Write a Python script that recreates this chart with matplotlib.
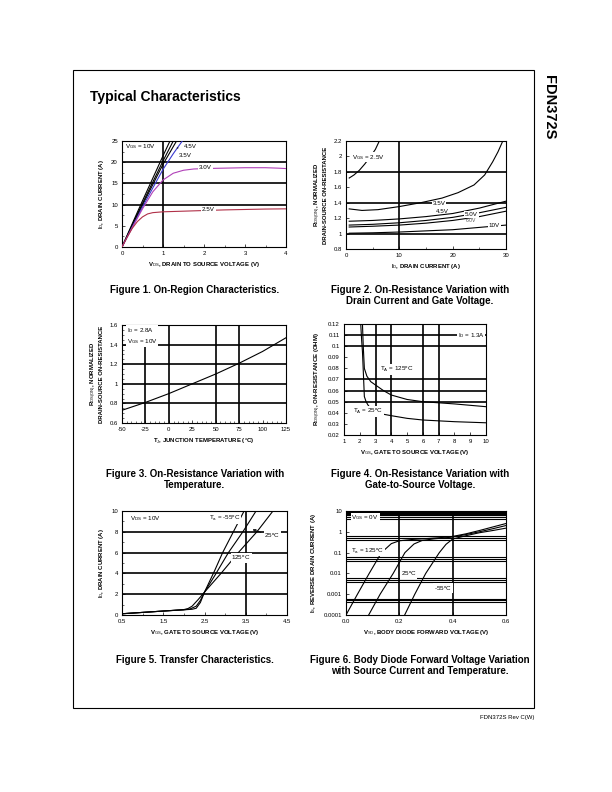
import numpy as np
import matplotlib
matplotlib.use("Agg")
import matplotlib.pyplot as plt
from matplotlib.patches import Rectangle

plt.rcParams['font.family'] = ['Liberation Sans', 'DejaVu Sans']
plt.rcParams['mathtext.fontset'] = 'custom'
plt.rcParams['mathtext.rm'] = 'Liberation Sans'
plt.rcParams['mathtext.it'] = 'Liberation Sans'
plt.rcParams['mathtext.bf'] = 'Liberation Sans:bold'
plt.rcParams['axes.unicode_minus'] = False

# ---------------- Data ----------------
# Figure 1: On-region characteristics (VDS vs ID)
f1_vds_10v = [0, 0.25, 0.5, 0.75, 1.0, 1.17]
f1_id_10v = [0, 5.5, 10.9, 16.2, 21.5, 25]
f1_vds_6v = [0, 0.25, 0.5, 0.75, 1.0, 1.25]
f1_id_6v = [0, 5.2, 10.3, 15.3, 20.3, 25]
f1_vds_45v = [0, 0.25, 0.5, 0.75, 1.0, 1.33]
f1_id_45v = [0, 5.0, 9.9, 14.7, 19.5, 25]
f1_vds_35v = [0, 0.25, 0.5, 0.75, 1.0, 1.25, 1.47]
f1_id_35v = [0, 4.7, 9.4, 13.9, 18.3, 22.0, 25]
f1_vds_30v = [0, 0.25, 0.5, 0.75, 1.0, 1.25, 1.5, 1.75, 2.0, 2.5, 3.0, 3.5, 3.8, 4.0]
f1_id_30v = [0, 4.6, 9.0, 13.0, 15.8, 17.4, 18.1, 18.4, 18.5, 18.6, 18.7, 18.7, 18.6, 18.5]
f1_vds_25v = [0, 0.125, 0.25, 0.375, 0.5, 0.625, 0.75, 1.0, 1.5, 2.0, 2.5, 3.0, 3.5, 4.0]
f1_id_25v = [0, 2.3, 4.4, 6.0, 7.1, 7.8, 8.1, 8.3, 8.45, 8.6, 8.75, 8.85, 8.95, 9.0]

# Figure 2: normalized RDS(on) vs ID
f2_id_25v = [0.6, 1.5, 2.5, 3.5, 4.5, 5.5, 6.25]
f2_r_25v = [1.72, 1.76, 1.82, 1.90, 1.99, 2.09, 2.2]
f2_id_35v = [0.6, 3, 6, 10, 14, 18, 21, 24, 26, 27.5, 28.5, 29.4]
f2_r_35v = [1.32, 1.30, 1.31, 1.35, 1.40, 1.46, 1.53, 1.63, 1.76, 1.93, 2.06, 2.2]
f2_id_45v = [0.6, 5, 10, 15, 20, 25, 30]
f2_r_45v = [1.16, 1.17, 1.19, 1.22, 1.26, 1.33, 1.42]
f2_id_50v = [0.6, 5, 10, 15, 20, 25, 30]
f2_r_50v = [1.11, 1.12, 1.14, 1.17, 1.21, 1.27, 1.34]
f2_id_60v = [0.6, 5, 10, 15, 20, 25, 30]
f2_r_60v = [1.085, 1.095, 1.11, 1.135, 1.17, 1.22, 1.29]
f2_id_10v = [0.6, 5, 10, 15, 20, 25, 30]
f2_r_10v = [1.005, 1.01, 1.02, 1.035, 1.05, 1.08, 1.11]

# Figure 3: normalized RDS(on) vs TJ
f3_tj = [-50, -25, 0, 25, 50, 75, 100, 125]
f3_r = [0.73, 0.81, 0.90, 1.00, 1.10, 1.21, 1.33, 1.47]

# Figure 4: RDS(on) vs VGS
f4_vgs_125 = [2.17, 2.22, 2.29, 2.45, 2.7, 3.0, 3.5, 4.0, 5.0, 6.0, 8.0, 10.0]
f4_r_125 = [0.12, 0.10, 0.080, 0.073, 0.068, 0.065, 0.060, 0.056, 0.052, 0.050, 0.048, 0.0455]
f4_vgs_25 = [2.06, 2.12, 2.17, 2.23, 2.29, 2.4, 2.52, 2.75, 3.0, 4.0, 5.0, 6.0, 8.0, 10.0]
f4_r_25 = [0.12, 0.105, 0.095, 0.075, 0.0546, 0.050, 0.047, 0.043, 0.040, 0.0374, 0.035, 0.0335, 0.032, 0.031]

# Figure 5: transfer characteristics
f5_vgs_m55 = [0.5, 1.0, 1.5, 2.0, 2.2, 2.3, 2.4, 2.5, 2.75, 2.94, 3.2, 3.46]
f5_id_m55 = [0.12, 0.25, 0.38, 0.5, 0.55, 0.65, 1.2, 2.2, 4.3, 6.0, 8.0, 10.0]
f5_vgs_25 = [0.5, 1.0, 1.5, 2.0, 2.15, 2.3, 2.4, 2.5, 2.75, 3.08, 3.43, 3.75]
f5_id_25 = [0.12, 0.25, 0.38, 0.5, 0.58, 0.85, 1.4, 2.2, 3.8, 6.0, 8.0, 10.0]
f5_vgs_125 = [0.5, 1.0, 1.5, 2.0, 2.1, 2.2, 2.35, 2.5, 2.9, 3.32, 3.77, 4.16]
f5_id_125 = [0.12, 0.25, 0.38, 0.52, 0.62, 0.85, 1.5, 2.2, 4.0, 6.0, 8.0, 10.0]

# Figure 6: body diode forward voltage
f6_vsd_125 = [0.0, 0.043, 0.087, 0.133, 0.17, 0.2, 0.25, 0.3, 0.35, 0.4, 0.45, 0.5, 0.55, 0.6]
f6_is_125 = [1e-4, 1e-3, 1e-2, 0.1, 0.27, 0.37, 0.43, 0.47, 0.52, 0.6, 0.8, 1.15, 1.7, 2.5]
f6_vsd_25 = [0.085, 0.128, 0.177, 0.221, 0.255, 0.285, 0.33, 0.37, 0.4, 0.45, 0.5, 0.55, 0.6]
f6_is_25 = [1e-4, 1e-3, 1e-2, 0.1, 0.26, 0.38, 0.46, 0.51, 0.56, 0.74, 1.0, 1.4, 2.0]
f6_vsd_m55 = [0.22, 0.258, 0.299, 0.35, 0.375, 0.4, 0.45, 0.5, 0.55, 0.6]
f6_is_m55 = [1e-4, 1e-3, 1e-2, 0.1, 0.25, 0.45, 0.65, 0.9, 1.15, 1.5]

# ---------------- Figure ----------------
W, H = 612, 792
fig = plt.figure(figsize=(W / 100, H / 100), dpi=100)

def ax_at(x0, x1, ytop, ybot):
    return fig.add_axes([x0 / W, 1 - ybot / H, (x1 - x0) / W, (ybot - ytop) / H])

TICK_FS = 4.3
LAB_FS = 4.3
GRID_LW = 1.2
CURVE_LW = 0.8
box = dict(facecolor='white', edgecolor='none', pad=0.6)

def style(ax):
    for s in ax.spines.values():
        s.set_linewidth(0.8)
    ax.tick_params(axis='both', which='major', direction='in', length=2.5, width=0.5,
                   labelsize=TICK_FS, pad=3)
    ax.tick_params(axis='both', which='minor', direction='in', length=1.3, width=0.4)

def hgrid(ax, ys, lw=GRID_LW):
    for y in ys:
        ax.axhline(y, color='black', lw=lw, zorder=1)

def vgrid(ax, xs):
    for x in xs:
        ax.axvline(x, color='black', lw=GRID_LW, zorder=1)

# border and page texts
fig.patches.append(Rectangle((73 / W, 1 - 708 / H), (534 - 73) / W, (708 - 70) / H,
                             transform=fig.transFigure, fill=False, lw=0.8, color='black'))
fig.text(90 / W, 1 - 97 / H, 'Typical Characteristics', fontsize=10, fontweight='bold',
         va='center', ha='left')
fig.text(549 / W, 1 - 107 / H, 'FDN372S', fontsize=10.5, fontweight='bold', rotation=-90,
         va='center', ha='center')
fig.text(534 / W, 1 - 718 / H, 'FDN372S Rev C(W)', fontsize=4.3, va='center', ha='right')

# ---- Figure 1 ----
ax = ax_at(122, 286, 141, 247)
style(ax)
hgrid(ax, [10, 15, 20])
vgrid(ax, [1])
ax.plot(f1_vds_10v, f1_id_10v, color='black', lw=CURVE_LW, zorder=3)
ax.plot(f1_vds_6v, f1_id_6v, color='black', lw=CURVE_LW, zorder=3)
ax.plot(f1_vds_45v, f1_id_45v, color='black', lw=CURVE_LW, zorder=3)
ax.plot(f1_vds_35v, f1_id_35v, color='#3a3ad0', lw=CURVE_LW, zorder=3)
ax.plot(f1_vds_30v, f1_id_30v, color='#b040b8', lw=CURVE_LW, zorder=3)
ax.plot(f1_vds_25v, f1_id_25v, color='#b03048', lw=CURVE_LW, zorder=3)
ax.set_xlim(0, 4)
ax.set_ylim(0, 25)
ax.set_xticks([0, 1, 2, 3, 4])
ax.set_yticks([0, 5, 10, 15, 20, 25])
ax.set_xticks(np.arange(0, 4.01, 0.5), minor=True)
ax.set_yticks(np.arange(0, 25.1, 2.5), minor=True)
ax.text(0.08, 23.8, r'V$_{GS}$ = 10V', fontsize=4.5, va='center', zorder=5)
ax.annotate('4.5V', xy=(1.28, 23.3), xytext=(1.5, 23.6), fontsize=4.5, va='center', zorder=5,
            arrowprops=dict(arrowstyle='-', lw=0.8, color='black'))
ax.text(1.38, 21.5, '3.5V', fontsize=4.5, va='center', zorder=5)
ax.text(1.88, 18.8, '3.0V', fontsize=4.5, va='center', zorder=5, bbox=box)
ax.text(1.95, 8.9, '2.5V', fontsize=4.5, va='center', zorder=5, bbox=box)
ax.set_xlabel(r'V$_{DS}$, DRAIN TO SOURCE VOLTAGE (V)', fontsize=LAB_FS, fontweight='bold', labelpad=3)
ax.set_ylabel(r'I$_D$, DRAIN CURRENT (A)', fontsize=LAB_FS, fontweight='bold', labelpad=4)

# ---- Figure 2 ----
ax = ax_at(346, 506, 141, 249)
style(ax)
hgrid(ax, [1.0, 1.4, 1.8])
vgrid(ax, [10])
for xs, ys in [(f2_id_25v, f2_r_25v), (f2_id_35v, f2_r_35v), (f2_id_45v, f2_r_45v),
               (f2_id_50v, f2_r_50v), (f2_id_60v, f2_r_60v), (f2_id_10v, f2_r_10v)]:
    ax.plot(xs, ys, color='black', lw=CURVE_LW, zorder=3)
ax.set_xlim(0, 30)
ax.set_ylim(0.8, 2.2)
ax.set_xticks([0, 10, 20, 30])
ax.set_yticks(np.round(np.arange(0.8, 2.21, 0.2), 1))
ax.set_yticklabels(['0.8', '1', '1.2', '1.4', '1.6', '1.8', '2', '2.2'])
ax.set_xticks(np.arange(0, 30.1, 5), minor=True)
ax.text(1.2, 1.99, r'V$_{GS}$ = 2.5V', fontsize=4.5, va='center', zorder=5, bbox=box)
ax.text(16.2, 1.385, '3.5V', fontsize=4.5, va='center', zorder=5, bbox=box)
ax.text(16.8, 1.29, '4.5V', fontsize=4.5, va='center', zorder=5)
ax.text(22.4, 1.165, '6.0V', fontsize=3.6, va='center', zorder=4, color='#555555')
ax.text(22.3, 1.245, '5.0V', fontsize=4.5, va='center', zorder=5, bbox=box)
ax.text(26.8, 1.1, '10V', fontsize=4.5, va='center', zorder=5, bbox=box)
ax.set_xlabel(r'I$_D$, DRAIN CURRENT (A)', fontsize=LAB_FS, fontweight='bold', labelpad=3)
ax.set_ylabel('R$_{DS(ON)}$, NORMALIZED\nDRAIN-SOURCE ON-RESISTANCE', fontsize=LAB_FS,
              fontweight='bold', labelpad=4, linespacing=1.0)

# ---- Figure 3 ----
ax = ax_at(122, 286, 325, 423)
style(ax)
hgrid(ax, [0.8, 1.0, 1.2, 1.4])
vgrid(ax, [-25, 0, 50, 75])
ax.plot(f3_tj, f3_r, color='black', lw=CURVE_LW, zorder=3)
ax.set_xlim(-50, 125)
ax.set_ylim(0.6, 1.6)
ax.set_xticks(np.arange(-50, 126, 25))
ax.set_yticks([0.6, 0.8, 1.0, 1.2, 1.4, 1.6])
ax.set_yticklabels(['0.6', '0.8', '1', '1.2', '1.4', '1.6'])
ax.set_xticks(np.arange(-50, 126, 5), minor=True)
ax.set_yticks(np.arange(0.6, 1.61, 0.05), minor=True)
ax.text(-45, 1.49, 'I$_D$ = 2.8A\nV$_{GS}$ = 10V', fontsize=4.5, va='center', zorder=5,
        bbox=box, linespacing=1.4)
ax.set_xlabel(r'T$_J$, JUNCTION TEMPERATURE ($^o$C)', fontsize=LAB_FS, fontweight='bold', labelpad=3)
ax.set_ylabel('R$_{DS(ON)}$, NORMALIZED\nDRAIN-SOURCE ON-RESISTANCE', fontsize=LAB_FS,
              fontweight='bold', labelpad=4, linespacing=1.0)

# ---- Figure 4 ----
ax = ax_at(344, 486, 324, 435)
style(ax)
hgrid(ax, [0.05, 0.06, 0.07, 0.10, 0.11])
vgrid(ax, [3, 4, 6, 7])
ax.plot(f4_vgs_125, f4_r_125, color='black', lw=CURVE_LW, zorder=3)
ax.plot(f4_vgs_25, f4_r_25, color='black', lw=CURVE_LW, zorder=3)
ax.set_xlim(1, 10)
ax.set_ylim(0.02, 0.12)
ax.set_xticks(range(1, 11))
ax.set_yticks(np.round(np.arange(0.02, 0.121, 0.01), 2))
ax.set_yticklabels(['0.02', '0.03', '0.04', '0.05', '0.06', '0.07', '0.08', '0.09', '0.1',
                    '0.11', '0.12'])
ax.text(8.2, 0.11, 'I$_D$ = 1.3A', fontsize=4.5, va='center', zorder=5, bbox=box)
ax.text(3.3, 0.079, 'T$_A$ = 125$^o$C', fontsize=4.5, va='center', zorder=5, bbox=box)
ax.text(1.6, 0.041, 'T$_A$ = 25$^o$C', fontsize=4.5, va='center', zorder=5, bbox=box)
ax.set_xlabel(r'V$_{GS}$, GATE TO SOURCE VOLTAGE (V)', fontsize=LAB_FS, fontweight='bold', labelpad=3)
ax.set_ylabel('R$_{DS(ON)}$, ON-RESISTANCE (OHM)', fontsize=LAB_FS, fontweight='bold', labelpad=4)

# ---- Figure 5 ----
ax = ax_at(122, 287, 511, 615)
style(ax)
hgrid(ax, [2, 4, 6, 8])
vgrid(ax, [3.5])
ax.plot(f5_vgs_m55, f5_id_m55, color='black', lw=CURVE_LW, zorder=3)
ax.plot(f5_vgs_25, f5_id_25, color='black', lw=CURVE_LW, zorder=3)
ax.plot(f5_vgs_125, f5_id_125, color='black', lw=CURVE_LW, zorder=3)
ax.set_xlim(0.5, 4.5)
ax.set_ylim(0, 10)
ax.set_xticks([0.5, 1.5, 2.5, 3.5, 4.5])
ax.set_yticks([0, 2, 4, 6, 8, 10])
ax.set_xticks(np.arange(0.5, 4.51, 0.5), minor=True)
ax.set_yticks(np.arange(0, 10.1, 1), minor=True)
ax.text(0.7, 9.3, 'V$_{DS}$ = 10V', fontsize=4.5, va='center', zorder=5)
ax.text(2.6, 9.3, 'T$_a$ = -55$^o$C', fontsize=4.5, va='center', zorder=5, bbox=box)
ax.annotate('25$^o$C', xy=(3.6, 8.3), xytext=(3.95, 7.6), fontsize=4.5, va='center', zorder=5,
            arrowprops=dict(arrowstyle='->', lw=0.6, color='black'), bbox=box)
ax.text(3.15, 5.5, '125$^o$C', fontsize=4.5, va='center', zorder=5, bbox=box)
ax.set_xlabel(r'V$_{GS}$, GATE TO SOURCE VOLTAGE (V)', fontsize=LAB_FS, fontweight='bold', labelpad=3)
ax.set_ylabel(r'I$_D$, DRAIN CURRENT (A)', fontsize=LAB_FS, fontweight='bold', labelpad=4)

# ---- Figure 6 ----
ax = ax_at(346, 506, 511, 615)
style(ax)
ax.set_yscale('log')
band = []
for dec in [1e-4, 1e-3, 1e-2, 1e-1]:
    band += [4 * dec, 5 * dec, 6 * dec]
band += [4, 5]
hgrid(ax, band, lw=0.8)
hgrid(ax, [6.3, 7, 7.8, 8.6, 9.4], lw=1.6)
vgrid(ax, [0.2, 0.4])
ax.plot(f6_vsd_125, f6_is_125, color='black', lw=CURVE_LW, zorder=3)
ax.plot(f6_vsd_25, f6_is_25, color='black', lw=CURVE_LW, zorder=3)
ax.plot(f6_vsd_m55, f6_is_m55, color='black', lw=CURVE_LW, zorder=3)
ax.set_xlim(0, 0.6)
ax.set_ylim(1e-4, 10)
ax.set_xticks([0, 0.2, 0.4, 0.6])
ax.set_xticklabels(['0.0', '0.2', '0.4', '0.6'])
ax.set_yticks([1e-4, 1e-3, 1e-2, 1e-1, 1, 10])
ax.set_yticklabels(['0.0001', '0.001', '0.01', '0.1', '1', '10'])
ax.yaxis.set_minor_locator(matplotlib.ticker.NullLocator())
ax.text(0.02, 4.6, 'V$_{GS}$ = 0V', fontsize=4.5, va='center', zorder=5, bbox=box)
ax.text(0.02, 0.12, 'T$_a$ = 125$^o$C', fontsize=4.5, va='center', zorder=5, bbox=box)
ax.text(0.205, 0.009, '25$^o$C', fontsize=4.5, va='center', zorder=5, bbox=box)
ax.text(0.33, 0.0019, '-55$^o$C', fontsize=4.5, va='center', zorder=5, bbox=box)
ax.set_xlabel(r'V$_{SD}$, BODY DIODE FORWARD VOLTAGE (V)', fontsize=LAB_FS, fontweight='bold', labelpad=3)
ax.set_ylabel(r'I$_S$, REVERSE DRAIN CURRENT (A)', fontsize=LAB_FS, fontweight='bold', labelpad=4)

# ---- Captions ----
CAP_FS = 7
def caption(xc, y, s):
    fig.text(xc / W, 1 - y / H, s, fontsize=CAP_FS, fontweight='bold', ha='center', va='top',
             linespacing=1.1)

caption(195, 285, 'Figure 1. On-Region Characteristics.')
caption(420, 285, 'Figure 2. On-Resistance Variation with\nDrain Current and Gate Voltage.')
caption(195, 469, 'Figure 3. On-Resistance Variation with\nTemperature.')
caption(420, 469, 'Figure 4. On-Resistance Variation with\nGate-to-Source Voltage.')
caption(195, 655, 'Figure 5. Transfer Characteristics.')
caption(420, 655, 'Figure 6. Body Diode Forward Voltage Variation\nwith Source Current and Temperature.')

fig.savefig('out.png', dpi=100)
